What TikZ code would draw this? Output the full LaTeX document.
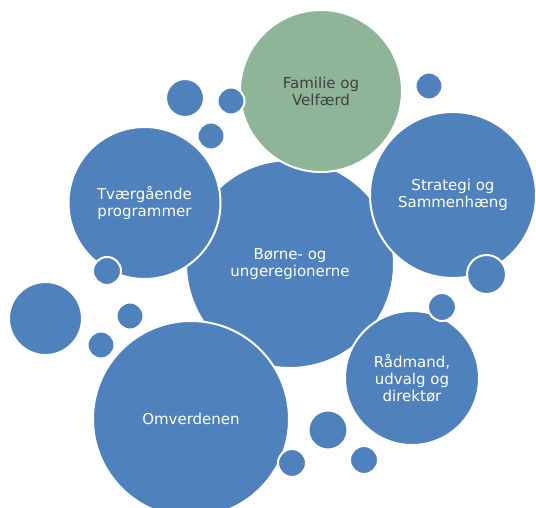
\documentclass[tikz,border=0pt]{standalone}
\usepackage{fontspec}
\setmainfont{DejaVu Sans}
\usepackage{tikz}
\definecolor{bubbleblue}{RGB}{79,129,189}
\definecolor{bubblegreen}{RGB}{143,181,153}
\definecolor{darktext}{RGB}{64,64,64}
\tikzset{
  bubble/.style={draw=white, line width=2pt, fill=bubbleblue},
  bigbubble/.style={bubble, circle, inner sep=0pt, minimum size=#1, text=white,
    align=center, font=\fontsize{15}{17}\selectfont},
}
\begin{document}
\begin{tikzpicture}[x=1pt, y=-1pt]
			%%%%% START %%%%%
			\useasboundingbox (0, 0) rectangle (536, 508);
			
			\node[bigbubble=208pt] (center) at (290, 264) {Børne- og\\ungeregionerne};
			\node[bigbubble=162pt, fill=bubblegreen, text=darktext] (familie) at (321, 91) {Familie og\\Velfærd};
			\node[bigbubble=166pt] (strategi) at (453, 195) {Strategi og\\Sammenhæng};
			\node[bigbubble=152pt] (tvaer) at (144.5, 203) {Tværgående\\programmer};
			\node[bigbubble=134pt] (raadmand) at (412, 378) {Rådmand,\\udvalg og\\direktør};
			\node[bigbubble=196pt] (omverden) at (191, 419) {Omverdenen};
			
			\draw[bubble] (185, 98) circle (19);
			\draw[bubble] (231, 101) circle (13.5);
			\draw[bubble] (211, 136) circle (13.5);
			\draw[bubble] (429, 86) circle (13.5);
			
			\draw[bubble] (107, 271) circle (14);
			\draw[bubble] (45.5, 318.5) circle (36.5);
			\draw[bubble] (130, 316) circle (13.5);
			\draw[bubble] (101, 345) circle (13.5);
			
			\draw[bubble] (486.5, 274.5) circle (19.5);
			\draw[bubble] (442, 307) circle (14);
			
			\draw[bubble] (328, 430) circle (19.5);
			\draw[bubble] (292, 463) circle (14);
			\draw[bubble] (364, 460) circle (14);
			
			%%%%% END %%%%%
\end{tikzpicture}
\end{document}
